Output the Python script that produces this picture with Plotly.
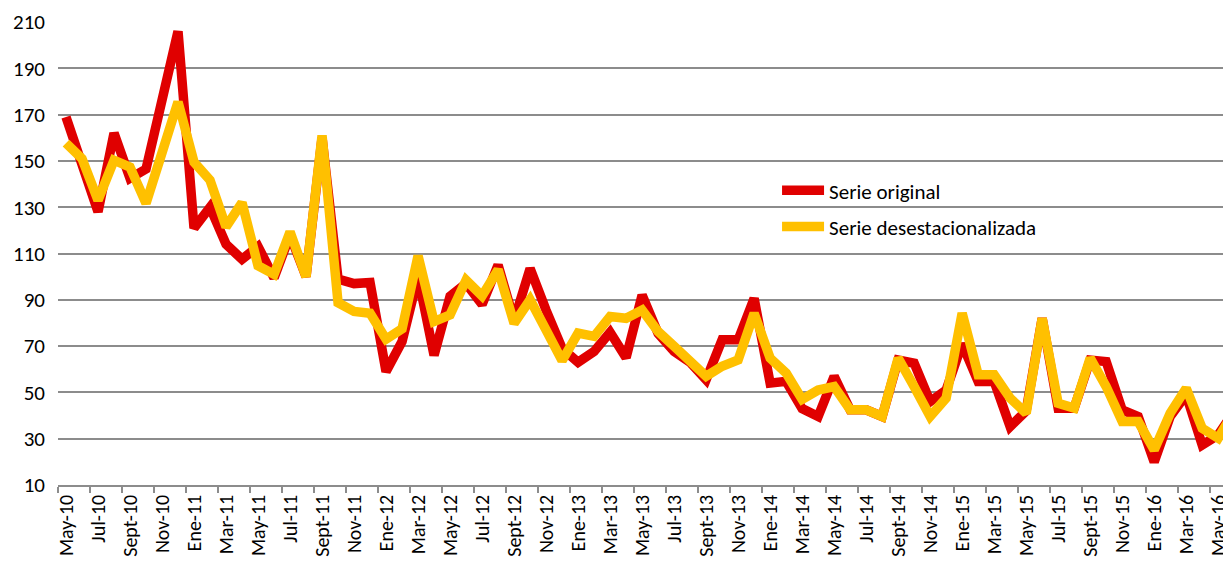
import plotly.graph_objects as go

month_abbr = ["Ene", "Feb", "Mar", "Abr", "May", "Jun", "Jul", "Ago", "Sept", "Oct", "Nov", "Dic"]
categories = []
for yr in range(10, 17):
    for m in range(12):
        if (yr == 10 and m < 4) or (yr == 16 and m > 5):
            continue
        categories.append(f"{month_abbr[m]}-{yr}")

serie_original = [169, 150, 128, 162, 142.5, 146.5, 176, 206, 121, 130,
                  114, 107.5, 113, 99.5, 118, 100, 160, 99, 97, 97.5,
                  59, 72, 100, 66, 91.5, 97, 88, 105, 81, 103.5,
                  85.5, 69, 63, 67.7, 76, 65, 92, 75.5, 67.7, 63,
                  55.5, 72.7, 72.7, 90.6, 54, 54.8, 43, 39.6, 56.9, 42.5,
                  42.5, 39.6, 64, 62.6, 46, 51, 71, 54.7, 54.7, 35.2,
                  42, 82, 43.2, 43.2, 64, 63.3, 42.4, 39.6, 20, 39.6,
                  49, 27.3, 31.6, 42]

serie_desest = [157.7, 151, 133, 150.3, 147.3, 131.7, 153.5, 175.5, 149.4, 141.7,
                121.5, 132, 104.7, 101, 119.3, 100, 161, 88.7, 85, 84.2,
                73, 77.5, 109, 80.6, 83.5, 98.5, 91.7, 103, 79.8, 90,
                77, 63.7, 75.6, 74.2, 82.8, 82, 85.6, 76.3, 69.9, 64,
                57, 61.3, 64, 84.2, 64.8, 58.4, 47, 51, 52.5, 42.5,
                42.5, 39.6, 64.8, 52.5, 39.6, 47.5, 84.2, 57.6, 57.6, 47.5,
                41, 82, 45.3, 43.2, 64.8, 52.5, 37.4, 37.4, 25.2, 41,
                51.8, 34.5, 30.2, 42]

y_ticks = [10, 30, 50, 70, 90, 110, 130, 150, 170, 190, 210]

FONT = "Carlito, Lato, sans-serif"
GRID = "#8c8c8c"

fig = go.Figure()
fig.add_trace(go.Scatter(x=categories, y=serie_original, mode="lines",
                         name="Serie original", legendgroup="a",
                         line=dict(color="#E00000", width=9.5)))
fig.add_trace(go.Scatter(x=categories, y=serie_desest, mode="lines",
                         name="Serie desestacionalizada", legendgroup="b",
                         line=dict(color="#FFC000", width=9.5)))

fig.update_layout(
    width=1223, height=557,
    margin=dict(l=50, r=0, t=14, b=80, autoexpand=False),
    paper_bgcolor="white", plot_bgcolor="white",
    font=dict(family=FONT, size=21, color="#000000"),
    showlegend=True,
    legend=dict(x=0.613, y=0.68, xanchor="left", yanchor="top",
                bgcolor="rgba(0,0,0,0)", font=dict(size=21, family=FONT),
                traceorder="grouped", tracegroupgap=6, itemwidth=42),
    xaxis=dict(type="category", range=[-0.5, 72.8], dtick=2,
               tickson="boundaries", ticks="outside", ticklen=6,
               tickcolor=GRID, tickwidth=1.5,
               showline=True, linecolor=GRID, linewidth=1.5,
               showgrid=False, tickangle=-90, automargin=False,
               tickfont=dict(size=20, family=FONT)),
    yaxis=dict(range=[10, 210], tickvals=y_ticks, showgrid=True,
               gridcolor=GRID, gridwidth=1.5, zeroline=False,
               showline=False, ticks="", automargin=False,
               ticklabelstandoff=12,
               tickfont=dict(size=21, family=FONT)),
)

fig.write_html("out.html")
